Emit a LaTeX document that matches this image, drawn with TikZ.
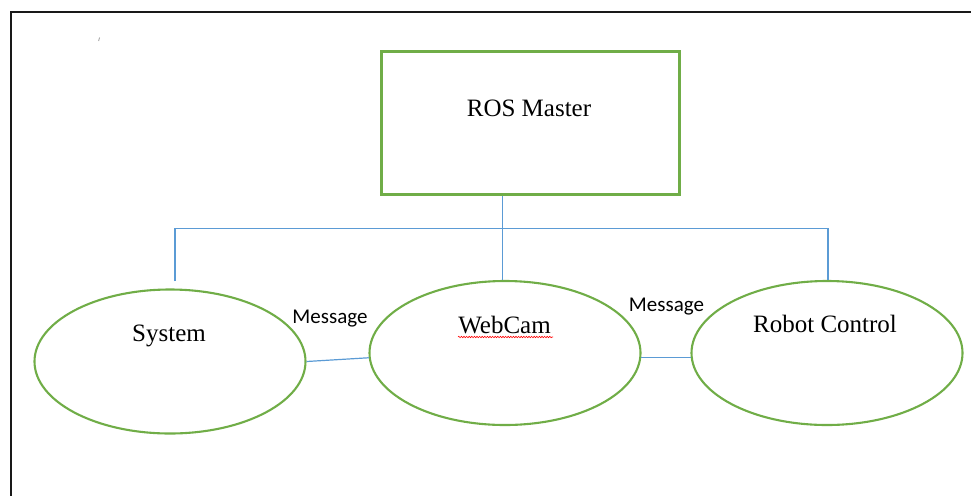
\documentclass[tikz,border=0pt]{standalone}
\usepackage{fontspec}
\setmainfont{Liberation Serif}
\newfontfamily\calibrifont{Carlito}
\usetikzlibrary{shapes.geometric,decorations.pathmorphing}
\definecolor{nodegreen}{HTML}{70AD47}
\definecolor{linkblue}{HTML}{5B9BD5}
\tikzset{
  masterbox/.style={draw=nodegreen, line width=2.3pt, minimum width=298pt, minimum height=143pt, inner sep=0pt},
  procnode/.style={ellipse, draw=nodegreen, line width=2.1pt, minimum width=271pt, minimum height=144pt, inner sep=0pt},
  link/.style={draw=linkblue, line width=1.2pt},
  nodetext/.style={anchor=base, inner sep=0pt, font=\fontsize{25}{30}\selectfont},
  msgtext/.style={anchor=base, inner sep=0pt, font=\calibrifont\fontsize{21}{25}\selectfont},
}
\begin{document}
\begin{tikzpicture}[x=1pt,y=-1pt]
  \useasboundingbox (0,0) rectangle (971,496);
  % outer frame (only the top and left edges are visible)
  \draw[line width=2.6pt, black!90] (971,12) -- (11,12) -- (11,496);
  % small stray mark
  \draw[gray!70, line width=0.9pt] (99.6,37.5) -- (98.6,41);

  % nodes
  \node[masterbox] (master) at (530.5,123) {};
  \node[procnode] (sys) at (170,361.5) {};
  \node[procnode] (cam) at (505,353) {};
  \node[procnode] (robot) at (827,353) {};

  % node labels
  \node[nodetext] (mastertxt) at (529,116) {ROS Master};
  \node[nodetext] (systxt) at (169,341.5) {System};
  \node[nodetext] (camtxt) at (504.5,333) {WebCam};
  \node[nodetext] (robottxt) at (825,332.5) {Robot Control};

  % spell-check squiggle under WebCam
  \draw[red, line width=0.6pt, decorate, decoration={snake, amplitude=0.7pt, segment length=2.6pt}]
    (458,337) -- (553,337);

  % bus from the master to the three processes
  \coordinate (busL) at (175,228.7);
  \coordinate (busR) at (828,228.7);
  \coordinate (busM) at (502.5,228.7);
  \coordinate (sysTop) at (175,281);
  \draw[link] (master.south -| busM) -- (cam.north -| busM);
  \draw[link] (sysTop) -- (busL) -- (busR) -- (robot.north -| busR);

  % message links
  \draw[link] (sys.east) -- (cam.182);
  \draw[link] (cam.-2) -- (robot.182);
  \node[msgtext] (msg1) at (330,323) {Message};
  \node[msgtext] (msg2) at (666.5,311.5) {Message};
\end{tikzpicture}
\end{document}
